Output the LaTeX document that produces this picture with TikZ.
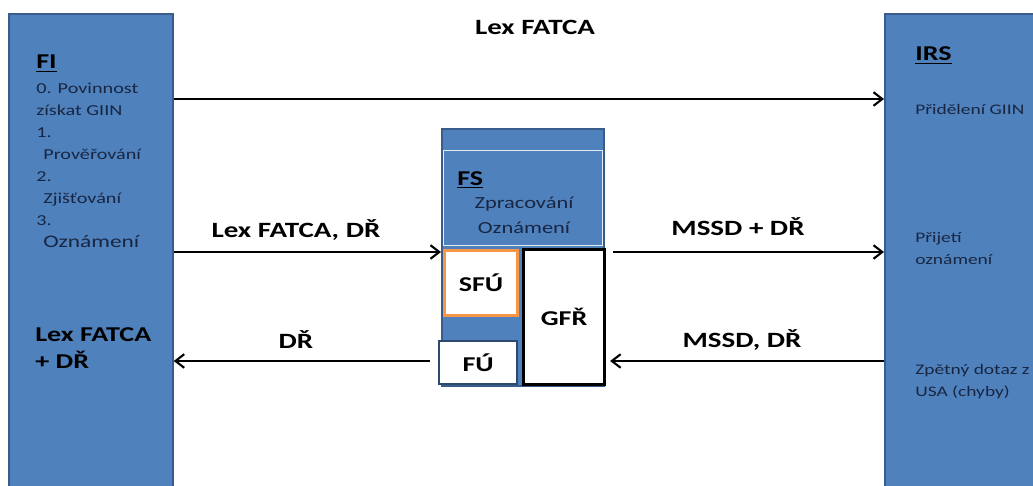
\documentclass[tikz,border=0pt]{standalone}
\usepackage{fontspec}
\setmainfont[FakeStretch=1.33]{Carlito}
\usepackage{tikz}
\usetikzlibrary{arrows.meta, positioning}
\definecolor{fblue}{RGB}{79,129,189}
\definecolor{fborder}{RGB}{56,93,138}
\definecolor{ftext}{RGB}{24,38,66}
\definecolor{forange}{RGB}{247,150,70}

\begin{document}
\begin{tikzpicture}[x=0.025cm, y=-0.025cm,
  party/.style={rectangle, draw=fborder, line width=1.2pt, fill=fblue, anchor=north west, inner sep=0pt},
  office/.style={rectangle, fill=white, anchor=north west, inner sep=0pt, font=\fontsize{15}{18}\selectfont\bfseries},
  head/.style={anchor=base west, inner sep=0pt, font=\fontsize{15}{18}\selectfont\bfseries},
  note/.style={anchor=base west, inner sep=0pt, align=left, text=ftext, font=\fontsize{10.8}{15.6}\selectfont},
  lbl/.style={anchor=base, inner sep=0pt, font=\fontsize{15.5}{19}\selectfont\bfseries},
  arr/.style={-{Straight Barb[length=2.2mm, width=3.4mm]}, line width=1.5pt}
]
\useasboundingbox (0,0) rectangle (1033,486);
\clip (0,0) rectangle (1033,486);
\node[party, minimum width=4.1cm, minimum height=12.5cm] (FI) at (8,13) {};
\node[party, minimum width=6cm, minimum height=12.5cm] (IRS) at (884,13) {};
\node[party, minimum width=4.05cm, minimum height=6.425cm] (FS) at (441,128) {};
\node[rectangle, draw=white!85!fblue, line width=0.6pt, fill=fblue, anchor=north west, minimum width=3.975cm, minimum height=2.375cm] (FSin) at (443,150) {};
\node[office, draw=forange, line width=2.2pt, minimum width=1.825cm, minimum height=1.625cm] (SFU) at (443,249) {SFÚ};
\node[office, draw=black, line width=2.2pt, minimum width=2.025cm, minimum height=3.375cm] (GFR) at (522,248) {GFŘ};
\node[office, draw=fborder!80!black, line width=1.6pt, minimum width=1.95cm, minimum height=1.075cm] (FU) at (438,340) {FÚ};

\node[head] (fihead) at (36,69) {\underline{FI}};
\node[note, anchor=north west] (finote) at (36,83) {0. Povinnost\\získat GIIN\\1.\\\hspace*{5pt}Prověřování\\2.\\\hspace*{5pt}Zjišťování\\3.\\\hspace*{5pt}{\fontsize{12.5}{15.6}\selectfont Oznámení}};
\node[head, align=left, anchor=north west, font=\fontsize{15}{19.2}\selectfont\bfseries] (fiout) at (35,327) {Lex FATCA\\+ DŘ};

\node[head] (irshead) at (915,61) {\underline{IRS}};
\node[note, font=\fontsize{10.4}{15.6}\selectfont] (irsgiin) at (915,114) {Přidělení GIIN};
\node[note, anchor=north west, font=\fontsize{10.4}{15.6}\selectfont] (irsin) at (915,232) {Přijetí\\oznámení};
\node[note, anchor=north west, font=\fontsize{10.4}{15.6}\selectfont] (irsback) at (915,364) {Zpětný dotaz z\\USA (chyby)};

\node[head] (fshead) at (457,185) {\underline{FS}};
\node[note, align=center, anchor=north, font=\fontsize{12}{17.8}\selectfont] (fsnote) at (524,197) {Zpracování\\Oznámení};

\coordinate (r1) at (0,99);
\coordinate (r2) at (0,252);
\coordinate (r3) at (0,361);
\draw[arr] (FI.east |- r1) -- (IRS.west |- r1);
\draw[arr] (FI.east |- r2) -- (FS.west |- r2);
\draw[arr, shorten <=0.175cm] (GFR.east |- r2) -- (IRS.west |- r2);
\draw[arr, shorten >=0.1cm] (IRS.west |- r3) -- (GFR.east |- r3);
\draw[arr, shorten <=0.2cm] (FU.west |- r3) -- (FI.east |- r3);

\node[lbl] (ltop) at (535,35) {Lex FATCA};
\node[lbl] (lfs) at (296,237) {Lex FATCA, DŘ};
\node[lbl] (lfi) at (296,348) {DŘ};
\node[lbl] (lirs) at (738,235) {MSSD + DŘ};
\node[lbl] (lback) at (742,347) {MSSD, DŘ};
\end{tikzpicture}
\end{document}
